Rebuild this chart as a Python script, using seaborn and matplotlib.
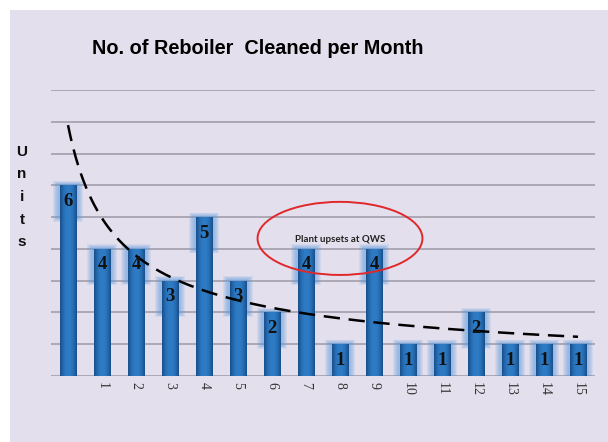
import numpy as np
import pandas as pd
import matplotlib
matplotlib.use("Agg")
import matplotlib.pyplot as plt
from matplotlib.patches import Rectangle, Ellipse
from matplotlib.colors import LinearSegmentedColormap
import seaborn as sns

# ---- data ----
tick_labels = ["", "1", "2", "3", "4", "5", "6", "7", "8", "9", "10", "11", "12", "13", "14", "15"]
units = [6, 4, 4, 3, 5, 3, 2, 4, 1, 4, 1, 1, 2, 1, 1, 1]
title = "No. of Reboiler  Cleaned per Month"
annotation = "Plant upsets at QWS"
ylabel_letters = ["U", "n", "i", "t", "s"]

sns.set_theme(style="white")
plt.rcParams["font.family"] = ["Liberation Sans", "DejaVu Sans"]

W, H, DPI = 608, 442, 100
fig = plt.figure(figsize=(W / DPI, H / DPI), dpi=DPI, facecolor="white")

# lavender panel
fig.patches.append(Rectangle((10 / W, 0), 1 - 10 / W, 1 - 10 / H, transform=fig.transFigure,
                             facecolor="#e4dfec", edgecolor="none", zorder=-10))

ax = fig.add_axes([51 / W, 1 - 376 / H, (595 - 51) / W, (376 - 90) / H])
ax.set_facecolor("none")
ax.set_zorder(5)

df = pd.DataFrame({"pos": np.arange(len(units)), "units": units})
x = df["pos"].to_numpy()
y = df["units"].to_numpy(dtype=float)

# grid lines
for v in range(0, 10):
    ax.axhline(v, color="#aca7b5", lw=1.4, zorder=0.5)

# soft glow around bar tops (layered translucent boxes)
for k in range(6):
    w = 0.86 - k * 0.05
    ext = 0.14 - k * 0.02
    ax.bar(x, 1.0 + 2 * ext, bottom=y - 1.0 - ext, width=w, color="#5f9ee0",
           alpha=0.13, zorder=1 + k * 0.01, linewidth=0)

sns.barplot(data=df, x="pos", y="units", color="#2568b0", width=0.5, saturation=1,
            ax=ax, zorder=2, linewidth=0, native_scale=True)

# horizontal gradient on bars
grad = np.linspace(0, 1, 64)
grad = 1 - (2 * np.abs(grad - 0.5)) ** 2
grad = grad.reshape(1, -1)
cmap = LinearSegmentedColormap.from_list("b", ["#174d8a", "#2f7cc6"])
for p in list(ax.patches):
    if p.get_zorder() == 2:
        bx, by = p.get_x(), p.get_y()
        bw, bh = p.get_width(), p.get_height()
        im = ax.imshow(grad, extent=(bx, bx + bw, by, by + bh), cmap=cmap, aspect="auto",
                       zorder=2.1, interpolation="bicubic")
        im.set_clip_path(p)

# value labels
for xi, yi in zip(x, y):
    ax.text(xi, yi - 0.5, f"{int(yi)}", ha="center", va="center", fontsize=13.5,
            fontweight="bold", family=["Liberation Serif", "DejaVu Serif"], color="#111111", zorder=4)

# power trendline (least-squares fit of log values, Excel style)
xe = x + 1.0
b, loga = np.polyfit(np.log(xe), np.log(y), 1)
xs = np.linspace(xe.min(), xe.max(), 200)
ax.plot(xs - 1, np.exp(loga) * xs ** b, color="black", lw=1.8, dashes=(6.5, 3.5), zorder=3)

# annotation ellipse
ax.add_patch(Ellipse((8.0, 4.33), 4.85, 2.3, fill=False, edgecolor="#e0282a", lw=1.4, zorder=3.5))
ax.text(8.0, 4.28, annotation, ha="center", va="center", fontsize=7, fontweight="bold",
        family=["Lato", "DejaVu Sans"], color="#222222", zorder=4)

ax.set_xlim(-0.5, 15.5)
ax.set_ylim(0, 9)
ax.set_yticks([])
ax.set_xticks(x)
ax.set_xticklabels(tick_labels, rotation=270, fontsize=10, family=["Liberation Serif", "DejaVu Serif"],
                   color="#333333", va="top")
ax.tick_params(axis="x", length=0, pad=4)
ax.set_xlabel("")
ax.set_ylabel("")
for s in ax.spines.values():
    s.set_visible(False)

fig.text(92 / W, 1 - 49 / H, title, ha="left", va="center", fontsize=14.3, fontweight="bold", color="black")
fig.text(22 / W, 1 - 197 / H, "\n".join(ylabel_letters), ha="center", va="center", fontsize=11,
         fontweight="bold", linespacing=1.78, color="#111111")

fig.savefig("out.png", dpi=DPI, facecolor="white")
